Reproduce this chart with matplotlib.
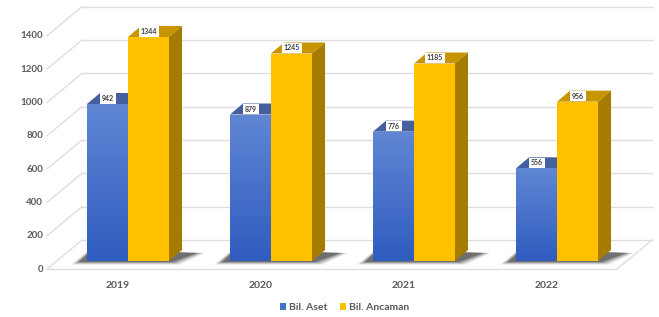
import numpy as np
import matplotlib.pyplot as plt
from matplotlib.patches import Polygon

years = ["2019", "2020", "2021", "2022"]
aset = [942, 879, 776, 556]
ancaman = [1344, 1245, 1185, 956]
series_names = ["Bil. Aset", "Bil. Ancaman"]
yticks = [0, 200, 400, 600, 800, 1000, 1200, 1400]

plt.rcParams['font.family'] = ['Lato', 'DejaVu Sans']

fig = plt.figure(figsize=(6.59, 3.17), dpi=100)
ax = fig.add_axes([0, 0, 1, 1])
ax.set_xlim(-0.895, 3.713)
ax.set_ylim(-336, 1566)
ax.axis("off")

PX = 1 / 143.0   # one pixel in x data units
PY = 6.0         # one pixel in y data units
grid_c = "#dedede"
text_c = "#595959"

# depth of bars and of the wall/floor box
bdx, bdy = 13 * PX, 11 * PY
front_off = -8 * PY          # front plane sits below bar base
wdx, wdy = 35 * PX, 29 * PY
x_front_l, x_front_r = -0.566, 3.42

# gridlines (back wall + left wall) and floor
for v in yticks:
    yf = v + front_off
    yb = yf + wdy
    ax.plot([x_front_l, x_front_l + wdx], [yf, yb], color=grid_c, lw=1, zorder=1)
    ax.plot([x_front_l + wdx, x_front_r + wdx], [yb, yb], color=grid_c, lw=1, zorder=1)
    ax.text(x_front_l - 4 * PX, yf, str(v), ha="right", va="center",
            fontsize=7, color=text_c, fontweight="bold")
ax.plot([x_front_l, x_front_r], [front_off, front_off], color=grid_c, lw=1, zorder=1)
ax.plot([x_front_r, x_front_r + wdx], [front_off, front_off + wdy], color=grid_c, lw=1, zorder=1)

w = 41 * PX
x = np.arange(len(years))
blue_c = "#4472c4"
blue_top = "#44609e"
gold_c = "#ffc000"
gold_top = "#c89500"
gold_side = "#a67c00"

grad = np.linspace(0, 1, 100).reshape(-1, 1)
blue_cmap = plt.matplotlib.colors.LinearSegmentedColormap.from_list("b", ["#2f5cbf", "#6086d4"])

for i in range(len(years)):
    xb = x[i] - w
    xy = x[i]
    # blurred shadow on floor
    x0, x1 = xb, xy + w + bdx
    for k, a in enumerate([0.12, 0.18, 0.25, 0.3]):
        s = (3 - k) * 2.5
        sh = Polygon([(x0 - (8 + s) * PX, -1 * PY - s * PY / 3),
                      (x1 - 10 * PX + s * PX, -1 * PY - s * PY / 3),
                      (x1 + (15 + s) * PX, 8 * PY),
                      (x0 + 5 * PX, 11 * PY + s * PY / 3)],
                     closed=True, fc="#1a1a1a", ec="none", alpha=a, zorder=2)
        ax.add_patch(sh)

    # blue bar
    h = aset[i]
    ax.add_patch(Polygon([(xb, h), (xb + w, h), (xb + w + bdx, h + bdy), (xb + bdx, h + bdy)],
                         fc=blue_top, ec="none", zorder=3))
    bars = ax.bar(xb, h, width=w, align="edge", color=blue_c, zorder=4)
    im = ax.imshow(grad, cmap=blue_cmap, aspect="auto", origin="lower",
                   extent=(xb, xb + w, 0, h), zorder=4)
    im.set_clip_path(bars[0])

    # gold bar
    h2 = ancaman[i]
    ax.add_patch(Polygon([(xy, h2), (xy + w, h2), (xy + w + bdx, h2 + bdy), (xy + bdx, h2 + bdy)],
                         fc=gold_top, ec="none", zorder=5))
    ax.add_patch(Polygon([(xy + w, 0), (xy + w + bdx, bdy), (xy + w + bdx, h2 + bdy), (xy + w, h2)],
                         fc=gold_side, ec="none", zorder=5))
    ax.bar(xy, h2, width=w, align="edge", color=gold_c, zorder=6)

    # value labels on top faces
    for xs, val in [(xb, h), (xy, h2)]:
        ax.text(xs + w / 2 + bdx / 2 - 6 * PX, val + bdy / 2, str(val), ha="center", va="center",
                fontsize=5, fontweight="bold", color="#404040", zorder=8,
                bbox=dict(boxstyle="square,pad=0.25", fc="white", ec="none"))

    ax.text(x[i] - 10 * PX, -150, years[i], ha="center", va="center",
            fontsize=7.5, fontweight="bold", color=text_c)

h1 = plt.Rectangle((0, 0), 1, 1, fc=blue_c)
h2 = plt.Rectangle((0, 0), 1, 1, fc=gold_c)
ax.legend([h1, h2], series_names, loc="center", bbox_to_anchor=(0.523, 0.03),
          ncol=2, frameon=False, handlelength=0.6, handleheight=0.6,
          handletextpad=0.3, columnspacing=1.2, labelcolor=text_c,
          prop={"weight": "bold", "size": 7.5})

fig.savefig("out.png", dpi=100)
